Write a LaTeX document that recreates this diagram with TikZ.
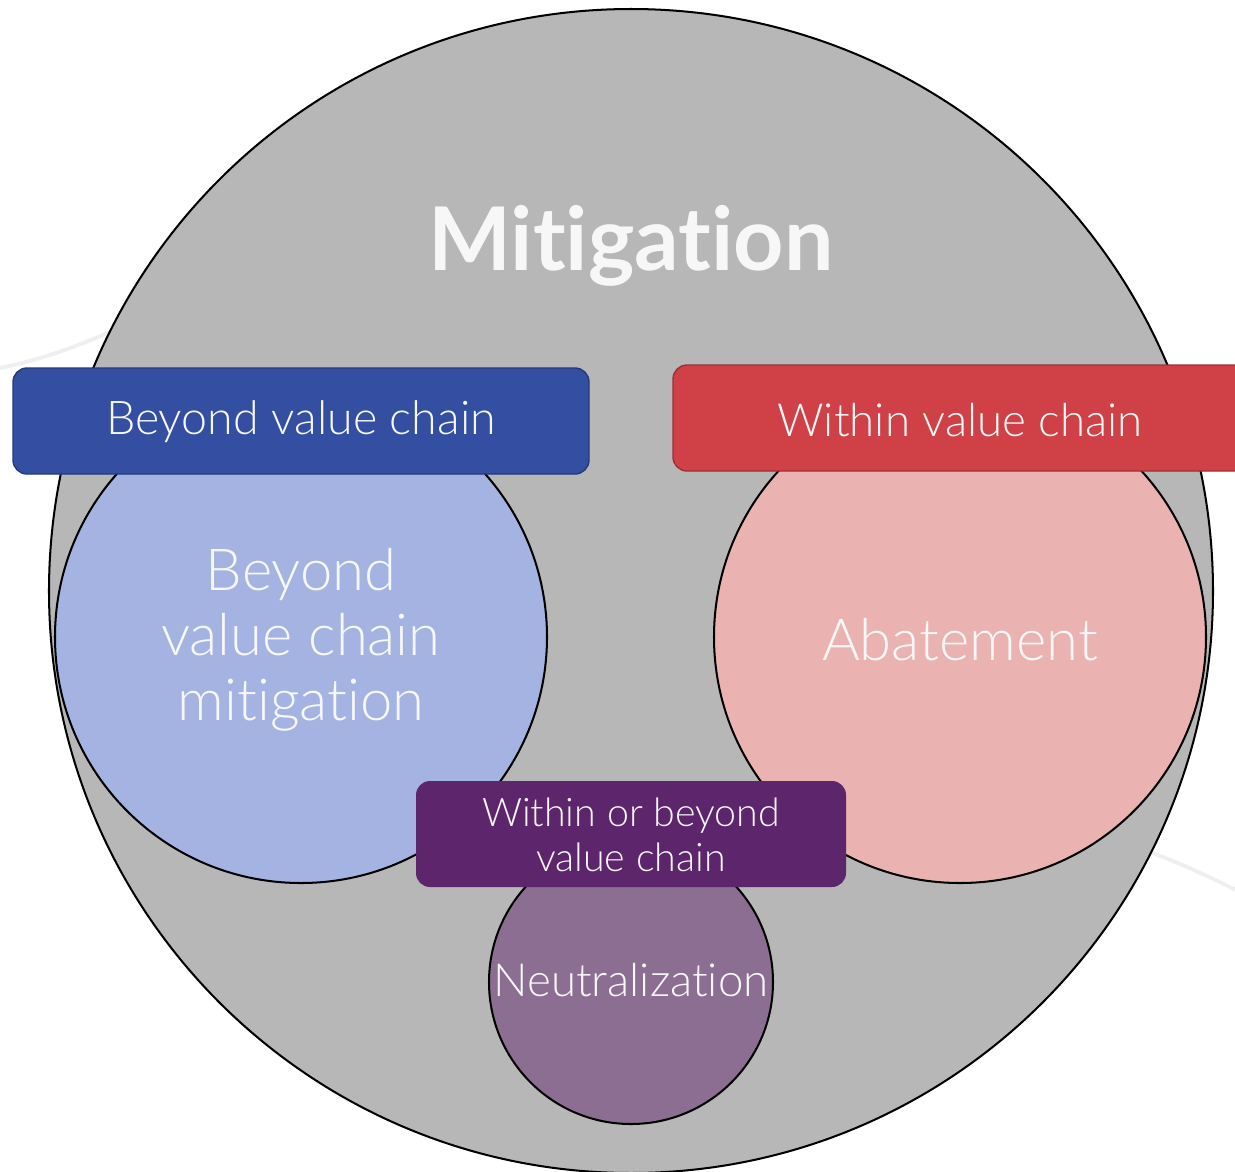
\documentclass[tikz,border=0pt]{standalone}
\usepackage{fontspec}
\setmainfont{Lato Light}[Ligatures=NoCommon]
\newfontfamily\boldf{Lato}[Ligatures=NoCommon]
\definecolor{bggray}{HTML}{B7B7B7}
\definecolor{bluebox}{HTML}{344FA1}
\definecolor{blueedge}{HTML}{26397A}
\definecolor{bluecirc}{HTML}{A4B3E1}
\definecolor{redbox}{HTML}{CF4146}
\definecolor{rededge}{HTML}{9E3035}
\definecolor{pinkcirc}{HTML}{EBB2B2}
\definecolor{purplebox}{HTML}{5D256B}
\definecolor{purplecirc}{HTML}{8B6E91}
\definecolor{txt}{HTML}{F7F7F7}
\definecolor{faint}{HTML}{EFEFEF}
\begin{document}
\begin{tikzpicture}[x=0.02cm,y=-0.02cm,
  circ/.style={circle,draw=black,line width=1.15pt,inner sep=0pt},
  tag/.style={rounded corners=0.28cm,inner sep=0pt,anchor=north west},
  lbl/.style={text=txt,align=center,inner sep=0pt}]
\useasboundingbox (0,0) rectangle (1235,1171);
% faint background curves
\draw[faint,line width=2.2pt] (0,368) .. controls (40,360) and (75,347) .. (110,332);
\draw[faint,line width=2.2pt] (1150,852) .. controls (1180,863) and (1210,877) .. (1240,892);
% main circle
\node[circ,fill=bggray,minimum size=1164*0.02cm] (mit) at (631,591) {};
\node[lbl,font=\boldf\bfseries\fontsize{50}{53}\selectfont] (mittxt) at (631,246) {Mitigation};
% inner circles
\node[circ,fill=bluecirc,minimum size=492*0.02cm] (bvc) at (301,637) {};
\node[circ,fill=pinkcirc,minimum size=492*0.02cm] (aba) at (960,637) {};
\node[circ,fill=purplecirc,minimum size=284*0.02cm] (neu) at (631,982) {};
\node[lbl,font=\fontsize{33}{37}\selectfont] (bvctxt) at (301,640) {Beyond\\value chain\\mitigation};
\node[lbl,font=\fontsize{33}{37}\selectfont] (abatxt) at (960,640) {Abatement};
\node[lbl,font=\fontsize{26}{29}\selectfont] (neutxt) at (631,980) {Neutralization};
% tags
\path[tag,fill=bluebox,draw=blueedge,line width=0.8pt] (13,368) rectangle (589,474);
\node[lbl,font=\fontsize{26.5}{29}\selectfont] (beyond) at (301,422) {Beyond value chain};
\path[tag,fill=redbox,draw=rededge,line width=0.8pt] (673,365) rectangle (1250,471);
\node[lbl,font=\fontsize{26}{29}\selectfont] (within) at (960,420) {Within value chain};
\path[tag,fill=purplebox] (416,781) rectangle (846,887);
\node[lbl,font=\fontsize{22.4}{25.5}\selectfont] (either) at (631,835) {Within or beyond\\value chain};
\end{tikzpicture}
\end{document}
